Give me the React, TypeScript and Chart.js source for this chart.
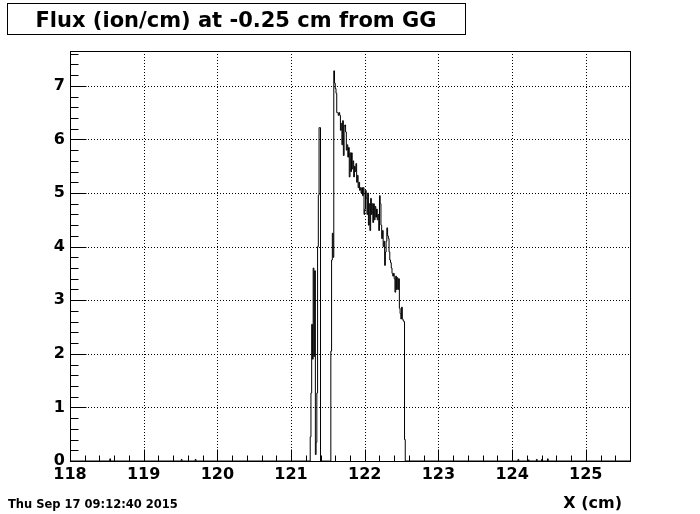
import React, { useEffect, useRef } from "react";
import { Chart, registerables } from "chart.js";

Chart.register(...registerables);

// ---- text ----
const TITLE = "Flux (ion/cm) at -0.25 cm from GG";
const X_TITLE = "X (cm)";
const DATE_TEXT = "Thu Sep 17 09:12:40 2015";

// ---- axes ----
const X_MIN = 118;
const X_MAX = 125.6;
const Y_MIN = 0;
const Y_MAX = 7.65;
const X_TICKS = [118, 119, 120, 121, 122, 123, 124, 125];
const Y_TICKS = [0, 1, 2, 3, 4, 5, 6, 7];
const X_MINOR_STEP = 0.2;
const Y_MINOR_STEP = 0.2;

// ---- histogram (bin width 0.01 cm, first bin starts at 121.26) ----
const BIN_START = 121.26;
const BIN_WIDTH = 0.01;
const FLUX = [
  0.45, 1.27, 2.55, 1.9, 3.6, 1.95, 3.55, 0.12, 0.35, 1.27,
  4.0, 4.96, 6.22, 6.22, 0, 0, 0, 0, 0, 0,
  0, 0, 0, 0, 0, 0, 0, 0, 2.05, 3.75,
  4.25, 3.8, 7.28, 7.05, 6.95, 6.86, 6.5, 6.5, 6.45, 6.5,
  6.45, 6.17, 6.3, 5.9, 6.35, 5.7, 6.25, 6.27, 6.14, 5.8,
  5.9, 5.67, 5.85, 5.3, 5.75, 5.4, 5.75, 5.45, 5.6, 5.3,
  5.5, 5.4, 5.55, 5.2, 5.33, 5.1, 5.2, 5.05, 5.1, 5.0,
  5.1, 4.95, 5.1, 4.6, 4.7, 5.05, 4.9, 4.6, 5.0, 4.4,
  4.8, 4.3, 4.9, 4.6, 4.8, 4.45, 4.8, 4.5, 4.75, 4.55,
  4.7, 4.5, 4.6, 4.3, 4.95, 4.8, 4.4, 4.15, 4.3, 4.0,
  4.1, 3.65, 3.9, 4.1, 4.35, 4.2, 4.15, 3.9, 3.75, 3.7,
  3.6, 3.5, 3.45, 3.5, 3.4, 3.15, 3.45, 3.2, 3.42, 3.2,
  3.4, 2.85, 2.75, 2.65, 2.87, 2.65, 2.62, 2.6, 0.4,
];

// tiny isolated bins far from the main peak
const NOISE_X = [118.54, 119.51, 119.7, 124.08, 124.22, 124.33, 124.4, 124.48];
const NOISE_Y = [0.04, 0.03, 0.03, 0.03, 0.02, 0.03, 0.03, 0.04];

const r3 = (v: number) => Math.round(v * 1000) / 1000;

function buildPoints() {
  const bins: { x: number; y: number }[] = [];
  FLUX.forEach((v, i) => bins.push({ x: r3(BIN_START + i * BIN_WIDTH), y: v }));
  NOISE_X.forEach((x, i) => bins.push({ x, y: NOISE_Y[i] }));
  bins.sort((a, b) => a.x - b.x);
  // step-after: each point's y covers the interval from the previous point to it,
  // so we emit the right edge of each bin with the bin's value
  const pts: { x: number; y: number }[] = [{ x: X_MIN, y: 0 }];
  let cursor = X_MIN;
  for (let i = 0; i < bins.length; i++) {
    const b = bins[i];
    if (b.x - cursor > 1e-6) pts.push({ x: b.x, y: 0 });
    const end = r3(b.x + BIN_WIDTH);
    pts.push({ x: end, y: b.y });
    cursor = end;
  }
  pts.push({ x: X_MAX, y: 0 });
  return pts;
}

const FONT = "'DejaVu Sans', sans-serif";

const rootPlugin = {
  id: "rootStyle",
  beforeDatasetsDraw(chart: any) {
    const { ctx, chartArea } = chart;
    const xs = chart.scales.x;
    const ys = chart.scales.y;
    ctx.save();
    ctx.strokeStyle = "#000";
    ctx.lineWidth = 1;
    ctx.setLineDash([1, 2]);
    X_TICKS.forEach((v) => {
      if (v <= X_MIN || v >= X_MAX) return;
      const px = Math.round(xs.getPixelForValue(v)) + 0.5;
      ctx.beginPath();
      ctx.moveTo(px, chartArea.top);
      ctx.lineTo(px, chartArea.bottom);
      ctx.stroke();
    });
    Y_TICKS.forEach((v) => {
      if (v <= Y_MIN || v >= Y_MAX) return;
      const py = Math.round(ys.getPixelForValue(v)) + 0.5;
      ctx.beginPath();
      ctx.moveTo(chartArea.left, py);
      ctx.lineTo(chartArea.right, py);
      ctx.stroke();
    });
    ctx.restore();
  },
  afterDatasetsDraw(chart: any) {
    const { ctx, chartArea } = chart;
    const xs = chart.scales.x;
    const ys = chart.scales.y;
    ctx.save();
    ctx.strokeStyle = "#000";
    ctx.lineWidth = 1;
    ctx.setLineDash([]);
    ctx.strokeRect(
      Math.round(chartArea.left) + 0.5,
      Math.round(chartArea.top) + 0.5,
      Math.round(chartArea.right - chartArea.left),
      Math.round(chartArea.bottom - chartArea.top)
    );
    const bottom = Math.round(chartArea.bottom) + 0.5;
    const left = Math.round(chartArea.left) + 0.5;
    ctx.beginPath();
    for (let v = X_MIN; v <= X_MAX + 1e-9; v = r3(v + X_MINOR_STEP)) {
      const major = X_TICKS.some((t) => Math.abs(t - v) < 1e-6);
      const px = Math.round(xs.getPixelForValue(v)) + 0.5;
      ctx.moveTo(px, bottom);
      ctx.lineTo(px, bottom - (major ? 12 : 6));
    }
    for (let v = Y_MIN; v <= Y_MAX + 1e-9; v = r3(v + Y_MINOR_STEP)) {
      const major = Y_TICKS.some((t) => Math.abs(t - v) < 1e-6);
      const py = Math.round(ys.getPixelForValue(v)) + 0.5;
      ctx.moveTo(left, py);
      ctx.lineTo(left + (major ? 16 : 8), py);
    }
    ctx.stroke();
    ctx.restore();
  },
  afterDraw(chart: any) {
    const { ctx } = chart;
    ctx.save();
    ctx.fillStyle = "#fff";
    ctx.fillRect(7.5, 3.5, 458, 31);
    ctx.strokeStyle = "#000";
    ctx.lineWidth = 1;
    ctx.strokeRect(7.5, 3.5, 458, 31);
    ctx.fillStyle = "#000";
    ctx.font = `bold 21px ${FONT}`;
    ctx.textAlign = "center";
    ctx.textBaseline = "alphabetic";
    ctx.fillText(TITLE, 236, 27);
    ctx.font = `bold 16px ${FONT}`;
    ctx.textAlign = "right";
    ctx.fillText(X_TITLE, 622, 508);
    ctx.font = `bold 11.5px ${FONT}`;
    ctx.textAlign = "left";
    ctx.fillText(DATE_TEXT, 8, 508);
    ctx.restore();
  },
};

export default function App() {
  const canvasRef = useRef<HTMLCanvasElement | null>(null);

  useEffect(() => {
    if (!canvasRef.current) return;
    const chart = new Chart(canvasRef.current, {
      type: "line",
      data: {
        datasets: [
          {
            data: buildPoints(),
            stepped: "after",
            borderColor: "#000",
            borderWidth: 1,
            pointRadius: 0,
            fill: false,
          } as any,
        ],
      },
      options: {
        animation: false,
        responsive: false,
        maintainAspectRatio: false,
        devicePixelRatio: 1,
        layout: { padding: { top: 51, right: 70, left: 0, bottom: 0 } },
        plugins: {
          legend: { display: false },
          tooltip: { enabled: false },
          title: { display: false },
        },
        scales: {
          x: {
            type: "linear",
            min: X_MIN,
            max: X_MAX,
            afterBuildTicks: (s: any) => {
              s.ticks = X_TICKS.map((v) => ({ value: v }));
            },
            afterFit: (s: any) => {
              s.height = 53;
            },
            ticks: {
              color: "#000",
              font: { family: FONT, size: 16, weight: "bold" },
              padding: 4,
              maxRotation: 0,
              autoSkip: false,
              callback: (v: any) => String(v),
            },
            grid: { display: false, drawTicks: false },
            border: { display: false },
          },
          y: {
            type: "linear",
            min: Y_MIN,
            max: Y_MAX,
            afterBuildTicks: (s: any) => {
              s.ticks = Y_TICKS.map((v) => ({ value: v }));
            },
            afterFit: (s: any) => {
              s.width = 70;
            },
            ticks: {
              color: "#000",
              font: { family: FONT, size: 16, weight: "bold" },
              padding: 5,
              autoSkip: false,
              callback: (v: any) => String(v),
            },
            grid: { display: false, drawTicks: false },
            border: { display: false },
          },
        },
      } as any,
      plugins: [rootPlugin],
    });
    return () => chart.destroy();
  }, []);

  return (
    <div style={{ position: "fixed", left: 0, top: 0, width: 700, height: 514, background: "#fff" }}>
      <canvas ref={canvasRef} width={700} height={514} style={{ display: "block" }} />
    </div>
  );
}
